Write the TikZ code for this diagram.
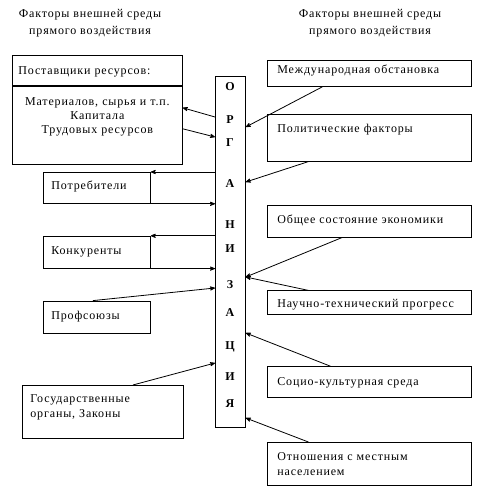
\documentclass[tikz,border=0pt]{standalone}
\usepackage{fontspec}
\setmainfont{Liberation Serif}[LetterSpace=7]
\usetikzlibrary{positioning, arrows}

\tikzset{
  box/.style={draw, inner xsep=8pt, inner ysep=0pt, align=left,
    font=\fontsize{12}{15}\selectfont},
  rbox/.style={box, inner xsep=10pt, text width=184pt},
  lbox/.style={box, text width=91pt},
  letter/.style={inner sep=0pt, font=\fontsize{12}{14}\selectfont\bfseries},
  title/.style={align=center, font=\fontsize{12}{17}\selectfont}
}

\begin{document}
\begin{tikzpicture}[->,>=stealth',x=1pt,y=-1pt,line width=0.8pt]
  \useasboundingbox (0,0) rectangle (482,493);

  \node[title] (ttlL) at (90,23.5) {Факторы внешней среды\\прямого воздействия};
  \node[title] (ttlR) at (370,23.5) {Факторы внешней среды\\прямого воздействия};

  % organisation
  \node[draw, minimum width=30pt, minimum height=351pt, inner sep=0pt,
    anchor=north west] (org) at (215,76) {};
  \foreach \ch/\y [count=\i] in {О/87,Р/120,Г/143,А/184,Н/225,И/249,З/285,А/313,Ц/347,И/377,Я/404}
    \node[letter] (ch\i) at (230,\y) {\ch};

  % left column
  \node[box, anchor=north west, inner xsep=6pt, text width=158pt,
    text height=19pt, text depth=11pt] (suppH) at (12,55) {Поставщики ресурсов:};
  \node[box, align=center, inner xsep=6pt, text width=158pt, text height=19pt,
    text depth=59pt, below=0pt of suppH, font=\fontsize{12}{14}\selectfont] (suppB)
    {Материалов, сырья и т.п.\\Капитала\\Трудовых ресурсов};
  \node[lbox, anchor=north west, text height=17pt, text depth=14pt] (cons) at (43,172) {Потребители};
  \node[lbox, text height=18pt, text depth=14pt, below=32pt of cons] (comp) {Конкуренты};
  \node[lbox, text height=18pt, text depth=14pt, below=32pt of comp] (union) {Профсоюзы};
  \node[box, anchor=north west, text width=145pt, text height=17pt,
    text depth=36pt] (gov) at (22,385) {Государственные\\органы, Законы};

  % right column
  \node[rbox, anchor=north west, text height=13pt, text depth=13pt] (intl) at (267,60) {Международная обстановка};
  \node[rbox, text height=18pt, text depth=29pt, below=27pt of intl] (pol) {Политические факторы};
  \node[rbox, text height=18pt, text depth=14pt, below=43pt of pol] (econ) {Общее состояние экономики};
  \node[rbox, text height=17pt, text depth=7pt, below=53pt of econ] (sci) {Научно-технический прогресс};
  \node[rbox, text height=19pt, text depth=12pt, below=51pt of sci] (soc) {Социо-культурная среда};
  \node[rbox, text height=18pt, text depth=25pt, below=44pt of soc] (rel) {Отношения с местным\\населением};

  % links, left
  \draw ([yshift=-41pt]org.north west) -- ([yshift=-22pt]suppB.north east);
  \draw ([yshift=-43pt]suppB.north east) -- ([yshift=-61pt]org.north west);
  \draw (org.west |- cons.north east) -- (cons.north east);
  \draw (cons.south east) -- (org.west |- cons.south east);
  \draw (org.west |- comp.north east) -- (comp.north east);
  \draw (comp.south east) -- (org.west |- comp.south east);
  \draw ([xshift=-4pt]union.north) -- ([yshift=-212pt]org.north west);
  \draw ([xshift=30pt]gov.north) -- ([yshift=-287pt]org.north west);

  % links, right
  \draw ([xshift=-47pt]intl.south) -- ([yshift=-51pt]org.north east);
  \draw ([xshift=-61pt]pol.south) -- ([yshift=-106pt]org.north east);
  \draw ([xshift=-27pt]econ.south) -- ([yshift=-201pt]org.north east);
  \draw ([xshift=-61pt]sci.north) -- ([yshift=-201pt]org.north east);
  \draw ([xshift=-39pt]soc.north) -- ([yshift=-257pt]org.north east);
  \draw ([xshift=-61pt]rel.north) -- ([yshift=-342pt]org.north east);
\end{tikzpicture}
\end{document}
